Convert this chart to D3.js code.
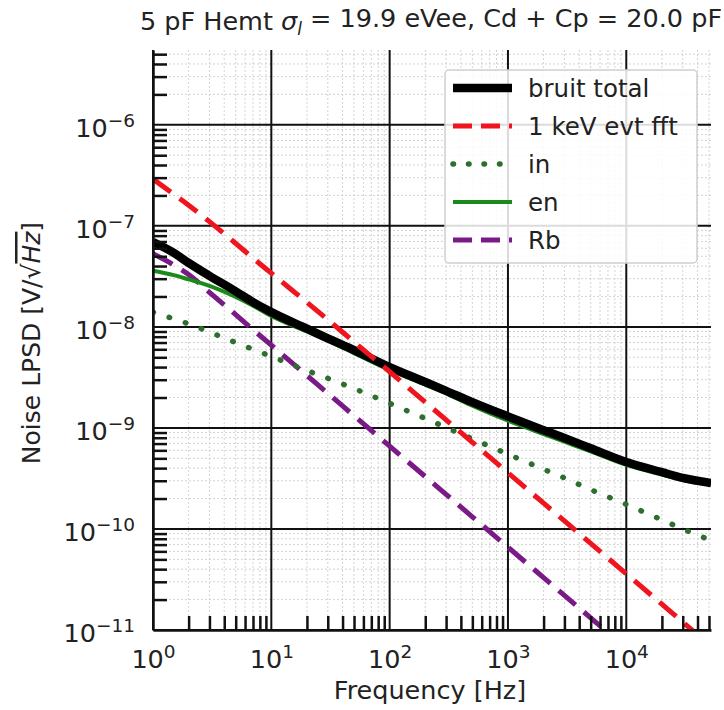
<!DOCTYPE html>
<html>
<head>
<meta charset="utf-8">
<script src="https://cdn.jsdelivr.net/npm/d3@7"></script>
<style>
  body { margin: 0; background: #fff; }
  svg text { font-family: "DejaVu Sans", sans-serif; fill: #222; }
</style>
</head>
<body>
<div id="graph-container"></div>
<script>
// frequencies [Hz] where curves were read
const freq = [1, 1.5, 2, 3, 5, 7, 10, 20, 30, 50, 100, 200, 300, 500, 1000, 2000, 3000, 5000, 10000, 20000, 30000, 52000];

const bruitTotal = [6.9e-8, 5.4e-8, 4.3e-8, 3.2e-8, 2.25e-8, 1.76e-8, 1.4e-8, 9.6e-9, 7.7e-9, 5.9e-9, 4.0e-9, 2.85e-9, 2.33e-9, 1.8e-9, 1.3e-9, 9.5e-10, 7.95e-10, 6.3e-10, 4.6e-10, 3.65e-10, 3.2e-10, 2.85e-10];
const evt1keV = [2.9e-7, 2.05e-7, 1.6e-7, 1.1e-7, 6.7e-8, 4.8e-8, 3.4e-8, 1.75e-8, 1.18e-8, 7.1e-9, 3.6e-9, 1.8e-9, 1.2e-9, 7.2e-10, 3.6e-10, 1.8e-10, 1.2e-10, 7.2e-11, 3.6e-11, 1.8e-11, 1.2e-11, 6.9e-12];
const inNoise = [1.4e-8, 1.2e-8, 1.07e-8, 8.9e-9, 7.0e-9, 6.0e-9, 5.1e-9, 3.7e-9, 3.1e-9, 2.45e-9, 1.75e-9, 1.24e-9, 1.01e-9, 7.8e-10, 5.5e-10, 3.9e-10, 3.2e-10, 2.45e-10, 1.75e-10, 1.23e-10, 1.0e-10, 7.7e-11];
const enNoise = [3.6e-8, 3.25e-8, 2.95e-8, 2.55e-8, 1.98e-8, 1.62e-8, 1.28e-8, 9.0e-9, 7.3e-9, 5.5e-9, 3.75e-9, 2.68e-9, 2.2e-9, 1.66e-9, 1.18e-9, 8.7e-10, 7.3e-10, 5.85e-10, 4.3e-10, 3.45e-10, 3.05e-10, 2.75e-10];
const rbNoise = [5.3e-8, 4.1e-8, 3.3e-8, 2.2e-8, 1.32e-8, 9.4e-9, 6.6e-9, 3.3e-9, 2.2e-9, 1.32e-9, 6.6e-10, 3.3e-10, 2.2e-10, 1.32e-10, 6.6e-11, 3.3e-11, 2.2e-11, 1.32e-11, 6.6e-12];

const seriesNames = ["bruit total", "1 keV evt fft", "in", "en", "Rb"];
const xMajor = [1, 10, 100, 1000, 10000];
const yMajor = [1e-11, 1e-10, 1e-9, 1e-8, 1e-7, 1e-6];

const width = 724;
const height = 710;
const plot = { left: 153, right: 711, top: 50, bottom: 630 };

const svg = d3
  .select("#graph-container")
  .append("svg")
  .attr("width", width)
  .attr("height", height);

const x = d3.scaleLog().domain([1, 5.2e4]).range([plot.left, plot.right]);
const y = d3.scaleLog().domain([1e-11, 5.5e-6]).range([plot.bottom, plot.top]);

// minor values (2..9 x decade) inside the domain
function minors(scale) {
  const [a, b] = scale.domain();
  const out = [];
  for (let e = Math.floor(Math.log10(a)); e <= Math.ceil(Math.log10(b)); e++) {
    for (let k = 2; k <= 9; k++) {
      const v = k * Math.pow(10, e);
      if (v > a && v < b) out.push(v);
    }
  }
  return out;
}
const xMinor = minors(x);
const yMinor = minors(y);

//grid
const grid = svg.append("g");
grid
  .selectAll("line.xminor")
  .data(xMinor)
  .enter()
  .append("line")
  .attr("x1", (d) => x(d))
  .attr("x2", (d) => x(d))
  .attr("y1", plot.top)
  .attr("y2", plot.bottom)
  .attr("stroke", "#c8c8c8")
  .attr("stroke-width", 0.8)
  .attr("stroke-dasharray", "2,2");
grid
  .selectAll("line.yminor")
  .data(yMinor)
  .enter()
  .append("line")
  .attr("x1", plot.left)
  .attr("x2", plot.right)
  .attr("y1", (d) => y(d))
  .attr("y2", (d) => y(d))
  .attr("stroke", "#c8c8c8")
  .attr("stroke-width", 0.8)
  .attr("stroke-dasharray", "2,2");
grid
  .selectAll("line.xmajor")
  .data(xMajor)
  .enter()
  .append("line")
  .attr("x1", (d) => x(d))
  .attr("x2", (d) => x(d))
  .attr("y1", plot.top)
  .attr("y2", plot.bottom)
  .attr("stroke", "#111")
  .attr("stroke-width", 2);
grid
  .selectAll("line.ymajor")
  .data(yMajor)
  .enter()
  .append("line")
  .attr("x1", plot.left)
  .attr("x2", plot.right)
  .attr("y1", (d) => y(d))
  .attr("y2", (d) => y(d))
  .attr("stroke", "#111")
  .attr("stroke-width", 2);

//curves
svg
  .append("clipPath")
  .attr("id", "clip")
  .append("rect")
  .attr("x", plot.left)
  .attr("y", plot.top)
  .attr("width", plot.right - plot.left)
  .attr("height", plot.bottom - plot.top);

const line = d3
  .line()
  .x((d) => x(d[0]))
  .y((d) => y(d[1]))
  .curve(d3.curveMonotoneX);

const styles = [
  { color: "#000", width: 8.5, dash: null, cap: "butt" },
  { color: "#f0141e", width: 5, dash: "22,11", cap: "butt" },
  { color: "#2e6e2e", width: 5.5, dash: "0.5,16.5", cap: "round" },
  { color: "#1a8a1a", width: 4, dash: null, cap: "butt" },
  { color: "#7a1a86", width: 5, dash: "22,11", cap: "butt" },
];
const allSeries = [bruitTotal, evt1keV, inNoise, enNoise, rbNoise];
const drawOrder = [4, 3, 2, 0, 1];

const curves = svg.append("g").attr("clip-path", "url(#clip)");
drawOrder.forEach((i) => {
  const pts = allSeries[i].map((v, j) => [freq[j], v]);
  const s = styles[i];
  curves
    .append("path")
    .attr("d", line(pts))
    .attr("fill", "none")
    .attr("stroke", s.color)
    .attr("stroke-width", s.width)
    .attr("stroke-linecap", s.cap)
    .attr("stroke-dasharray", s.dash);
});

//axes
function supLabel(sel) {
  sel.each(function (d) {
    const t = d3.select(this);
    const e = Math.round(Math.log10(d));
    t.text(null);
    t.append("tspan").text("10");
    t.append("tspan")
      .attr("dy", "-0.55em")
      .attr("font-size", "18.5px")
      .text(e < 0 ? "\u2212" + Math.abs(e) : String(e));
  });
}

const gx = svg
  .append("g")
  .attr("transform", `translate(0,${plot.bottom})`)
  .call(d3.axisBottom(x).tickValues(xMinor).tickSize(-14).tickFormat(""));
gx.call((g) => g.select(".domain").remove());
gx.selectAll("line").attr("stroke", "#111").attr("stroke-width", 2.5);

const gxMaj = svg
  .append("g")
  .attr("transform", `translate(0,${plot.bottom})`)
  .call(d3.axisBottom(x).tickValues(xMajor).tickSize(0).tickPadding(14));
gxMaj.select(".domain").attr("stroke", "#111").attr("stroke-width", 2.5);
gxMaj
  .selectAll("text")
  .attr("font-size", "25.5px")
  .attr("dy", "0.95em")
  .call(supLabel);

const gy = svg
  .append("g")
  .attr("transform", `translate(${plot.left},0)`)
  .call(d3.axisLeft(y).tickValues(yMinor).tickSize(-14).tickFormat(""));
gy.call((g) => g.select(".domain").remove());
gy.selectAll("line").attr("stroke", "#111").attr("stroke-width", 2.5);

const gyMaj = svg
  .append("g")
  .attr("transform", `translate(${plot.left},0)`)
  .call(d3.axisLeft(y).tickValues(yMajor).tickSize(0).tickPadding(18));
gyMaj.select(".domain").attr("stroke", "#111").attr("stroke-width", 2.5);
gyMaj
  .selectAll("text")
  .attr("font-size", "25.5px")
  .attr("dy", "0.45em")
  .call(supLabel);

//labels
svg
  .append("text")
  .attr("x", (plot.left + plot.right) / 2 - 2)
  .attr("y", 699)
  .attr("text-anchor", "middle")
  .attr("font-size", "25.5px")
  .text("Frequency [Hz]");

const ylab = svg
  .append("text")
  .attr("transform", "translate(40,343) rotate(-90)")
  .attr("text-anchor", "middle")
  .attr("font-size", "25px");
ylab.append("tspan").text("Noise LPSD [V/\u221A");
ylab
  .append("tspan")
  .attr("font-style", "italic")
  .style("text-decoration", "overline")
  .text("Hz");
ylab.append("tspan").text("]");

const title = svg
  .append("text")
  .attr("x", 431)
  .attr("y", 30)
  .attr("text-anchor", "middle")
  .attr("font-size", "25.5px");
title.append("tspan").text("5 pF Hemt ");
title.append("tspan").attr("font-style", "italic").text("\u03C3");
title
  .append("tspan")
  .attr("font-style", "italic")
  .attr("font-size", "17px")
  .attr("dy", "0.3em")
  .text("l");
title.append("tspan").attr("dy", "-0.3em").text(" = 19.9 eVee, Cd + Cp = 20.0 pF");

//legend
const legend = svg.append("g").attr("transform", "translate(445,70)");
legend
  .append("rect")
  .attr("width", 252)
  .attr("height", 193)
  .attr("rx", 4)
  .attr("fill", "#fff")
  .attr("fill-opacity", 0.85)
  .attr("stroke", "#d0d0d0")
  .attr("stroke-width", 1.5);

const items = legend
  .selectAll("g.item")
  .data(seriesNames)
  .enter()
  .append("g")
  .attr("transform", (d, i) => `translate(0,${18 + i * 38})`);
items
  .append("line")
  .attr("x1", 8)
  .attr("x2", 67)
  .attr("stroke", (d, i) => styles[i].color)
  .attr("stroke-width", (d, i) => styles[i].width)
  .attr("stroke-linecap", (d, i) => styles[i].cap)
  .attr("stroke-dasharray", (d, i) => (styles[i].dash ? (i === 2 ? "0.5,15" : "19,9") : null));
items
  .append("text")
  .attr("x", 83)
  .attr("dy", "0.35em")
  .attr("font-size", "24.5px")
  .text((d) => d);
</script>
</body>
</html>
